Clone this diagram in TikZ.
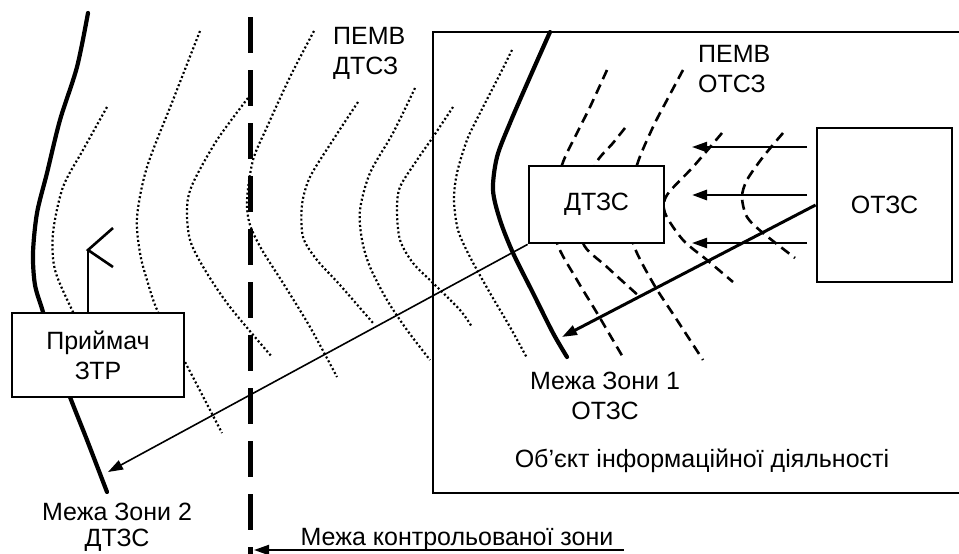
\documentclass[tikz,border=0pt]{standalone}
\usepackage{fontspec}
\setmainfont{Liberation Sans}
\usetikzlibrary{arrows.meta}

\begin{document}
\begin{tikzpicture}[x=1pt, y=-1pt,
		every node/.style={font=\fontsize{25}{30}\selectfont, inner sep=0pt},
		box/.style={
			draw, line width=2.8pt, fill=white, align=center
		},
		bound/.style={line width=4.2pt, line cap=round},
		emd/.style={line width=2.2pt, dash pattern=on 2pt off 2.4pt},
		emo/.style={line width=2.6pt, dash pattern=on 10pt off 6pt},
		arr/.style={-{Triangle[length=15pt, width=10pt]}},
		]
		
		\useasboundingbox (0,0) rectangle (959,554);
		
		% object of information activity
		\draw[line width=1.6pt] (959,32) -| (433,493) -- (959,493);
		
		% radiation of auxiliary equipment
		\draw[emd] plot[smooth] coordinates {(107,107) (83,150) (63,187) (53,233) (55,270) (73,312) (90,345)};
		\draw[emd] plot[smooth] coordinates {(200,31) (173,100) (147,167) (137,217) (140,253) (147,280) (158,312) (185,362) (222,433)};
		\draw[emd] plot[smooth] coordinates {(248,98) (217,140) (193,183) (187,207) (190,240) (205,270) (230,307) (272,357)};
		\draw[emd] plot[smooth] coordinates {(314,31) (290,77) (267,127) (253,160) (247,200) (250,225) (262,250) (283,283) (310,327) (337,377)};
		\draw[emd] plot[smooth] coordinates {(358,102) (333,140) (310,177) (302,205) (303,237) (317,260) (340,285) (373,323)};
		\draw[emd] plot[smooth] coordinates {(415,88) (393,133) (370,173) (360,210) (362,240) (370,267) (387,300) (407,330) (430,360)};
		\draw[emd] plot[smooth] coordinates {(453,107) (433,137) (417,160) (400,187) (397,210) (400,240) (413,263) (433,283) (460,310) (472,327)};
		\draw[emd] plot[smooth] coordinates {(512,50) (497,80) (480,113) (467,140) (457,173) (454,200) (458,230) (470,257) (490,293) (510,327) (527,358)};
		
		% radiation of main equipment
		\draw[emo] plot[smooth] coordinates {(607,70) (590,107) (577,133) (562,165) (554,205) (557,243) (577,280) (597,313) (624,359)};
		\draw[emo] plot[smooth] coordinates {(625,128) (613,143) (595,165) (585,205) (583,243) (607,267) (640,297)};
		\draw[emo] plot[smooth] coordinates {(683,70) (667,100) (653,127) (637,165) (630,205) (633,243) (653,283) (677,320) (703,360)};
		\draw[emo] plot[smooth] coordinates {(722,133) (693,167) (667,195) (665,213) (683,240) (707,260) (733,282)};
		\draw[emo] plot[smooth] coordinates {(783,133) (763,157) (747,180) (742,197) (747,217) (763,233) (795,258)};
		
		% zone borders
		\draw[bound] plot[smooth] coordinates {(550,32) (530,77) (510,123) (497,157) (493,190) (500,220) (513,253) (533,293) (553,333) (567,357)};
		\draw[bound] plot[smooth] coordinates {(88,13) (77,67) (60,120) (47,173) (37,213) (33,253) (35,285) (43,312) (55,355) (70,397) (87,440) (107,492)};
		
		\coordinate (kz-top) at (250,17);
		\coordinate (kz-bot) at (250,560);
		\draw[line width=5pt, dash pattern=on 36pt off 17pt] (kz-top) -- (kz-bot);
		
		\node[box, minimum width=172pt, minimum height=84pt] (recv) at (98,355) {Приймач\\ЗТР};
		\node[box, minimum width=135pt, minimum height=77pt] (dtzs) at (596.5,204.5) {ДТЗС};
		\node[box, minimum width=135pt, minimum height=154pt] (otzs) at (884.5,205) {ОТЗС};
		
		% antenna
		\coordinate (ant) at (88,250);
		\coordinate (ant-a) at (113,228);
		\coordinate (ant-b) at (113,267);
		\draw[line width=2.6pt] (recv.north -| ant) -- (ant);
		\draw[line width=2.6pt] (ant-a) -- (ant) -- (ant-b);
		
		\coordinate (e1) at (807,147);
		\coordinate (e2) at (807,195);
		\coordinate (e3) at (807,243);
		\coordinate (t1) at (692,147);
		\coordinate (t2) at (692,195);
		\coordinate (t3) at (692,243);
		\draw[arr, line width=2.2pt] (e1) -- (t1);
		\draw[arr, line width=2.8pt] (e2) -- (t2);
		\draw[arr, line width=2.2pt] (e3) -- (t3);
		
		\coordinate (z1tip) at (562,337);
		\coordinate (z2tip) at (108,472);
		\draw[arr, line width=3pt] (otzs.west) -- (z1tip);
		\draw[arr, line width=1.6pt] (dtzs.south west) -- (z2tip);
		
		\coordinate (kz-from) at (624,550);
		\coordinate (kz-to) at (254,550);
		\draw[arr, line width=2pt] (kz-from) -- (kz-to);
		
		\node[align=left, anchor=north west] (pemvd) at (333,27) {ПЕМВ\\ДТСЗ};
		\node[align=left, anchor=north west] (pemvo) at (698,45) {ПЕМВ\\ОТСЗ};
		\node[align=center, anchor=north] (zone1) at (605,372) {Межа Зони 1\\ОТЗС};
		\node[align=center, anchor=north] (zone2) at (117,503) {Межа Зони 2\\[-4pt]ДТЗС};
		\node[anchor=base] (obj) at (702,467) {Об’єкт інформаційної діяльності};
		\node[anchor=base] (kz) at (457,545) {Межа контрольованої зони};
		
	\end{tikzpicture}
\end{document}
